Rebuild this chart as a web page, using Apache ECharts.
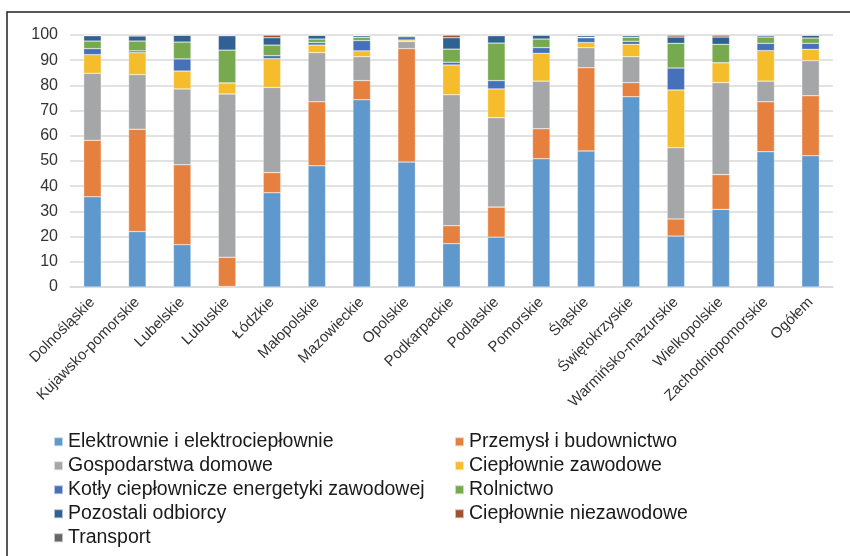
<!DOCTYPE html>
<html>
<head>
<meta charset="utf-8">
<script src="https://cdn.jsdelivr.net/npm/echarts@6/dist/echarts.min.js"></script>
<style>
  html, body { margin: 0; padding: 0; background: #fff; }
  #main { width: 850px; height: 556px; }
</style>
</head>
<body>
<div id="main"></div>
<script>
const regions = [
  "Dolnośląskie", "Kujawsko-pomorskie", "Lubelskie", "Lubuskie", "Łódzkie",
  "Małopolskie", "Mazowieckie", "Opolskie", "Podkarpackie", "Podlaskie",
  "Pomorskie", "Śląskie", "Świętokrzyskie", "Warmińsko-mazurskie",
  "Wielkopolskie", "Zachodniopomorskie", "Ogółem",
];

// udział procentowy w każdym województwie
const elektrownie = [35.8, 22.0, 16.8, 0.2, 37.4, 48.1, 74.3, 49.6, 17.2, 19.8, 50.9, 54.0, 75.5, 20.2, 30.8, 53.7, 52.1];
const przemysl = [22.4, 40.6, 31.7, 11.6, 8.0, 25.4, 7.6, 45.0, 7.1, 11.9, 11.9, 33.0, 5.6, 6.8, 13.8, 19.8, 23.8];
const gospodarstwa = [26.6, 21.7, 30.1, 64.8, 33.8, 19.5, 9.5, 2.8, 52.0, 35.5, 18.9, 8.0, 10.3, 28.3, 36.5, 8.2, 13.9];
const cieplownieZaw = [7.4, 8.7, 7.1, 4.4, 11.4, 3.0, 2.3, 0.6, 11.8, 11.4, 11.0, 2.0, 4.9, 22.9, 7.9, 12.1, 4.5];
const kotly = [2.4, 0.7, 4.8, 0, 1.2, 1.0, 4.1, 1.3, 1.1, 3.3, 2.3, 1.9, 1.2, 8.7, 0, 2.9, 2.4];
const rolnictwo = [3.0, 3.9, 6.7, 13.0, 4.2, 1.4, 1.3, 0.5, 5.2, 14.9, 3.4, 0.2, 1.6, 9.8, 7.3, 2.5, 2.1];
const pozostali = [2.1, 2.0, 2.7, 5.7, 2.9, 1.5, 0.6, 0.2, 4.5, 2.9, 1.6, 0.7, 0.6, 2.5, 2.9, 0.7, 1.1];
const cieplownieNiezaw = [0.2, 0.4, 0.1, 0.3, 1.1, 0.1, 0.2, 0, 1.1, 0.3, 0, 0.1, 0.3, 0.8, 0.8, 0.1, 0.1];
const transport = [0.1, 0, 0.1, 0, 0, 0, 0.1, 0, 0, 0, 0, 0.1, 0, 0, 0, 0, 0];

const yTicks = [0, 100, 10]; // min, max, interval

const seriesDefs = [
  { name: "Elektrownie i elektrociepłownie", data: elektrownie, color: "#5f98cc" },
  { name: "Przemysł i budownictwo", data: przemysl, color: "#e6803e" },
  { name: "Gospodarstwa domowe", data: gospodarstwa, color: "#a5a6a8" },
  { name: "Ciepłownie zawodowe", data: cieplownieZaw, color: "#f5bd2b" },
  { name: "Kotły ciepłownicze energetyki zawodowej", data: kotly, color: "#4770bb" },
  { name: "Rolnictwo", data: rolnictwo, color: "#77a94e" },
  { name: "Pozostali odbiorcy", data: pozostali, color: "#2f6193" },
  { name: "Ciepłownie niezawodowe", data: cieplownieNiezaw, color: "#a0522d" },
  { name: "Transport", data: transport, color: "#666666" },
];

const font = "'Liberation Sans', Arial, sans-serif";

const chart = echarts.init(document.getElementById("main"));

const legendBase = {
  orient: "vertical",
  top: 430,
  icon: "rect",
  itemWidth: 9,
  itemHeight: 9,
  itemGap: 0.5,
  padding: 0,
  selectedMode: false,
  textStyle: { fontFamily: font, fontSize: 19.5, lineHeight: 23.5, color: "#1a1a1a" },
};

const option = {
  animation: false,
  backgroundColor: "#fff",
  textStyle: { fontFamily: font },
  graphic: [
    {
      type: "rect",
      shape: { x: 7, y: 12, width: 900, height: 600 },
      style: { fill: "none", stroke: "#222", lineWidth: 1.5 },
      silent: true,
    },
  ],
  legend: [
    Object.assign({}, legendBase, {
      left: 53,
      data: seriesDefs.filter((_, i) => i % 2 === 0).map((s) => s.name),
    }),
    Object.assign({}, legendBase, {
      left: 454,
      data: seriesDefs.filter((_, i) => i % 2 === 1).map((s) => s.name),
    }),
  ],
  grid: { left: 70, right: 17, top: 35, bottom: 269 },
  xAxis: {
    type: "category",
    data: regions,
    axisTick: { show: false },
    axisLine: { lineStyle: { color: "#d9d9d9", width: 1.5 } },
    axisLabel: {
      interval: 0,
      rotate: 45,
      margin: 13,
      fontSize: 15,
      color: "#333",
      fontFamily: font,
    },
  },
  yAxis: {
    type: "value",
    min: yTicks[0],
    max: yTicks[1],
    interval: yTicks[2],
    axisLine: { show: false },
    axisTick: { show: false },
    splitLine: { lineStyle: { color: "#d9d9d9", width: 1.5 } },
    axisLabel: { fontSize: 16, color: "#333", margin: 12, fontFamily: font },
  },
  series: seriesDefs.map((s) => ({
    name: s.name,
    type: "bar",
    stack: "total",
    barWidth: "39%",
    data: s.data,
    itemStyle: { color: s.color, borderColor: "rgba(255,255,255,0.6)", borderWidth: 0.5 },
  })),
};

chart.setOption(option);
</script>
</body>
</html>
